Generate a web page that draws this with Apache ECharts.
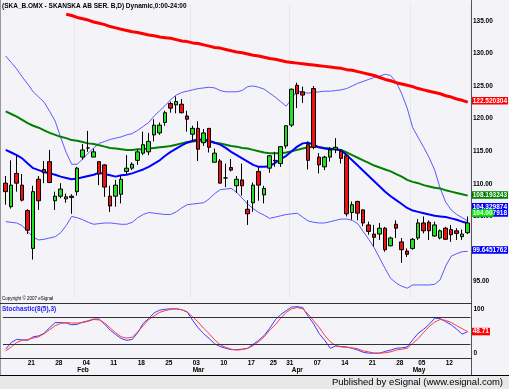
<!DOCTYPE html>
<html><head><meta charset="utf-8">
<script src="https://cdn.jsdelivr.net/npm/echarts@6/dist/echarts.min.js"></script>
<style>html,body{margin:0;padding:0;background:#f4f3f8}#c{width:509px;height:389px}</style>
</head><body><div id="c"></div>
<script>
const dates = [
'2008-01-15','2008-01-16','2008-01-17','2008-01-18',
'2008-01-21','2008-01-22','2008-01-23','2008-01-24','2008-01-25',
'2008-01-28','2008-01-29','2008-01-30','2008-01-31','2008-02-01',
'2008-02-04','2008-02-05','2008-02-06','2008-02-07','2008-02-08',
'2008-02-11','2008-02-12','2008-02-13','2008-02-14','2008-02-15',
'2008-02-18','2008-02-19','2008-02-20','2008-02-21','2008-02-22',
'2008-02-25','2008-02-26','2008-02-27','2008-02-28','2008-02-29',
'2008-03-03','2008-03-04','2008-03-05','2008-03-06','2008-03-07',
'2008-03-10','2008-03-11','2008-03-12','2008-03-13','2008-03-14',
'2008-03-17','2008-03-18','2008-03-19','2008-03-20',
'2008-03-25','2008-03-26','2008-03-27',
'2008-03-31','2008-04-01','2008-04-02','2008-04-03','2008-04-04',
'2008-04-07','2008-04-08','2008-04-09','2008-04-10','2008-04-11',
'2008-04-14','2008-04-15','2008-04-16','2008-04-17','2008-04-18',
'2008-04-21','2008-04-22','2008-04-23','2008-04-24','2008-04-25',
'2008-04-28','2008-04-29','2008-04-30','2008-05-02',
'2008-05-05','2008-05-06','2008-05-07','2008-05-08','2008-05-09',
'2008-05-12','2008-05-13','2008-05-14','2008-05-15','2008-05-16'];

// [open, close, low, high]
const ohlc = [
[110.1,108.8,106.8,111.2],[106.5,109.8,106.2,113.6],[111.6,110.1,108.8,114.3],[109.8,107.5,107.3,111.5],
[105.9,102.9,102.3,106.1],[100.1,108.8,98.4,109.7],[110.7,107.4,106.0,111.2],[112.2,111.7,110.1,113.5],[113.4,110.2,110.1,115.2],
[107.4,108.1,106.0,108.8],[108.1,109.2,107.8,110.1],[107.7,108.0,107.1,108.5],[108.1,107.9,105.4,108.4],[108.8,112.4,108.2,112.6],
[114.1,115.2,113.7,116.1],[115.5,115.5,114.9,118.1],[114.1,114.9,114.1,115.4],[113.4,111.5,109.8,113.4],[112.9,109.5,108.0,113.0],
[108.1,106.6,105.7,109.7],[108.1,109.8,106.5,110.6],[108.4,110.7,107.0,111.2],[111.9,112.4,111.5,114.4],[112.4,113.0,112.1,113.3],
[113.6,114.9,112.9,115.3],[114.7,116.0,114.4,118.0],[114.9,116.5,114.4,117.8],[117.5,119.0,116.5,119.9],[117.8,119.0,117.5,119.4],
[119.4,120.9,118.9,121.2],[122.3,121.6,120.9,122.6],[122.1,122.6,120.8,123.4],[122.2,120.9,120.8,123.0],[120.4,119.9,118.0,121.2],
[117.6,118.5,116.5,118.9],[118.5,115.3,113.5,119.6],[116.3,117.8,115.8,118.4],[118.5,115.6,114.8,118.5],[113.3,114.7,113.3,115.4],
[113.5,110.1,110.1,113.8],[110.9,110.9,109.5,113.1],[112.5,112.1,111.9,113.8],[109.7,110.7,108.6,111.2],[110.6,109.7,108.2,113.1],
[106.1,105.4,103.7,107.5],[107.1,109.8,105.7,110.2],[111.9,109.8,107.4,112.6],[108.3,109.3,107.0,109.7],
[112.4,114.3,111.7,114.4],[113.6,113.5,112.6,114.9],[113.1,115.7,112.6,115.8],
[115.8,118.9,115.4,119.0],[119.0,124.5,118.7,124.6],[125.1,123.8,121.6,125.5],[124.1,123.6,122.4,124.9],[116.0,113.6,112.2,116.5],
[124.6,115.6,115.3,125.0],[114.1,112.9,111.6,114.7],[112.6,114.1,112.1,114.3],[114.1,115.2,113.4,115.6],[115.3,115.6,114.7,117.0],
[115.0,113.9,113.1,115.2],[114.3,105.4,105.0,114.4],[105.6,106.8,104.5,107.3],[107.3,105.5,104.4,107.4],[106.0,104.0,103.5,106.1],
[103.7,102.7,102.2,104.2],[102.3,101.8,100.4,103.7],[102.3,103.2,101.4,104.0],[103.2,99.9,99.6,103.4],[100.5,101.7,100.4,101.9],
[103.8,103.2,101.7,104.4],[101.1,99.9,97.9,101.7],[99.7,99.2,98.8,100.1],[100.1,101.5,99.9,101.7],
[101.7,104.0,101.4,104.6],[104.0,102.8,102.4,105.0],[104.1,102.8,101.4,104.4],[102.0,103.7,101.9,104.2],[101.7,102.8,101.5,103.0],
[103.2,101.5,101.4,103.4],[103.0,102.2,101.1,103.7],[102.8,102.4,101.4,103.2],[101.9,102.3,101.4,103.0],[102.5,104.0,102.3,105.0]];

const maRed = [null,null,null,null,null,null,null,null,null,null,null,
136.0,135.8,135.5,135.3,135.1,134.8,134.6,134.4,134.1,133.9,133.7,133.5,133.3,133.2,133.0,132.8,132.7,132.5,132.4,
132.3,132.1,131.9,131.8,131.6,131.5,131.3,131.1,130.9,130.8,130.6,130.4,130.2,130.1,129.9,129.7,129.6,129.4,129.2,
129.1,128.9,128.7,128.6,128.5,128.4,128.3,128.2,128.1,128.0,127.9,127.8,127.7,127.5,127.4,127.2,127.0,126.8,126.6,
126.3,126.0,125.8,125.5,125.3,125.1,124.9,124.6,124.4,124.2,124.0,123.8,123.5,123.3,123.0,122.8,122.520304];

const maGreen = [121.1,120.7,120.3,119.8,119.3,118.9,118.6,118.2,117.8,117.5,117.2,117.0,116.7,116.6,116.4,116.2,116.1,
115.9,115.7,115.5,115.4,115.3,115.2,115.2,115.3,115.3,115.4,115.5,115.6,115.7,115.8,116.0,116.2,116.4,116.5,116.6,
116.6,116.5,116.3,116.2,116.0,115.8,115.7,115.5,115.4,115.2,115.0,114.8,114.7,114.7,114.7,114.8,115.0,115.2,115.4,
115.6,115.7,115.6,115.5,115.4,115.3,115.2,114.8,114.4,114.0,113.6,113.2,112.8,112.5,112.2,111.9,111.5,111.1,110.6,
110.3,110.1,109.8,109.6,109.4,109.3,109.0,108.8,108.6,108.4,108.193243];

const bbMid = [115.2,114.8,114.4,113.9,113.1,112.4,112.1,111.8,111.6,111.4,111.1,110.9,110.7,110.8,111.0,111.2,111.4,
111.7,111.5,111.3,111.1,111.3,111.4,111.6,111.9,112.2,112.6,113.1,113.6,114.3,114.9,115.4,115.9,116.3,116.6,116.8,
116.8,116.6,116.3,116.0,115.5,114.9,114.4,113.9,113.4,112.9,112.6,112.6,112.7,113.2,113.8,114.3,115.0,115.7,116.2,
116.3,116.0,115.6,115.4,115.3,115.3,115.1,114.4,113.6,112.8,112.0,111.2,110.4,109.6,108.8,108.1,107.5,106.9,106.3,
105.9,105.7,105.5,105.3,105.1,105.0,104.9,104.7,104.5,104.2,104.007918];

const bbUpper = [129.6,128.6,127.6,126.4,125.3,124.1,123.3,122.5,121.1,119.6,117.1,114.8,113.0,113.0,113.8,114.7,115.5,
116.2,116.5,116.8,117.0,117.2,117.5,117.7,118.2,118.8,119.4,120.4,121.2,122.0,122.9,123.6,124.0,124.2,124.4,124.6,
124.7,124.8,124.7,124.3,124.1,124.1,124.1,124.3,124.9,125.0,124.8,124.5,123.9,123.3,122.6,121.9,123.0,124.3,124.0,
123.9,124.0,124.1,124.2,124.2,124.3,124.4,124.6,125.0,125.4,125.7,126.0,126.3,126.5,126.8,126.6,125.6,123.8,121.6,
118.6,117.1,115.6,114.0,112.1,109.3,107.2,106.0,105.3,104.8,104.329874];

const bbLower = [104.2,104.1,104.0,103.6,102.7,101.8,101.4,101.5,101.7,101.9,102.5,103.6,105.0,104.8,104.5,104.1,103.8,
103.9,104.0,104.0,103.9,103.8,103.8,104.1,104.8,105.3,105.6,105.5,105.4,105.3,105.3,105.7,106.3,106.8,106.9,107.0,
107.1,107.7,108.5,109.1,109.2,109.3,108.7,107.8,106.9,106.2,105.6,105.2,104.7,104.9,105.1,105.3,105.4,105.5,104.9,
104.3,104.1,104.0,104.0,104.2,104.4,104.6,104.6,104.4,103.9,102.7,101.5,100.2,98.6,97.0,95.5,94.8,94.3,94.0,
94.5,94.5,94.5,94.5,94.6,95.3,97.4,98.9,99.3,99.6,99.6451762];

const stochK = [9,24,31,30,29,37,39,45,58,69,69,68,64,65,70,73,77,77,65,52,42,33,29,31,46,67,78,91,97,99,
100,100,98,93,74,57,44,33,21,15,11,8,8,9,11,20,29,40,56,75,87,96,104,105,103,83,66,44,29,11,
16,15,14,11,7,2,0,0,0,4,7,11,12,14,30,45,54,65,79,78,71,64,54,43,48.5];

const stochD = [5,14,24,29,31,34,37,44,53,62,67,69,68,68,69,72,76,75,68,57,46,37,34,36,48,62,76,84,92,96,
99,100,98,93,82,70,56,44,30,19,13,9,7,8,11,17,26,37,52,64,79,92,100,103,100,88,73,58,40,26,
17,14,13,12,10,5,3,0,0,1,3,7,9,11,22,33,47,60,70,76,74,69,62,55,48.71];

const stochLevels = [80, 20];
const priceTicks = [95,100,105,110,115,120,125,130,135];
const monthNames = ['Jan','Feb','Mar','Apr','May','Jun','Jul','Aug','Sep','Oct','Nov','Dec'];

function dUTC(s){return new Date(Date.UTC(+s.slice(0,4), +s.slice(5,7)-1, +s.slice(8,10)));}
const weekStart = dates.map((d,i)=>{ if(i===0) return false; const a=dUTC(dates[i-1]), b=dUTC(d);
  return b.getUTCDay() <= a.getUTCDay() || (b-a) >= 7*864e5; });
const monthStart = dates.map((d,i)=> i>0 && d.slice(5,7)!==dates[i-1].slice(5,7));
const closes = ohlc.map(d=>d[1]);

const chart = echarts.init(document.getElementById('c'), null, {renderer:'canvas'});
const FF = 'Liberation Sans, Arial, sans-serif';
const lblFont = {fontFamily:FF, fontSize:6.5, fontWeight:'bold', color:'#000'};
function tag(bg, dy, digits){
  return {show:true, formatter:(p)=>{const v=Array.isArray(p.value)?p.value[1]:p.value; return (+v).toFixed(digits);},
    backgroundColor:bg, color:'#fff', fontFamily:FF, fontSize:6.5, fontWeight:'bold',
    padding:[0.5,1,0,1], lineHeight:7, distance:4, offset:[0,dy], align:'left'};
}
const option = {
  animation:false,
  backgroundColor:'#f4f3f8',
  grid:[
    {left:2.95, right:38.55, top:4.4, bottom:91},
    {left:2.95, right:38.55, top:303.3, bottom:31.4}
  ],
  xAxis:[
    {type:'category', gridIndex:0, data:dates, axisLine:{show:false}, axisTick:{show:false}, axisLabel:{show:false},
     splitLine:{show:true, interval:(i)=>monthStart[i], lineStyle:{color:'#dcdce6', type:'dotted', width:1}}},
    {type:'category', gridIndex:1, data:dates, axisLine:{show:false}, axisTick:{show:false},
     axisLabel:Object.assign({interval:(i)=>weekStart[i], formatter:(v)=>v.slice(8), align:'left', margin:2}, lblFont),
     splitLine:{show:false}},
    {type:'category', gridIndex:1, data:dates, position:'bottom', offset:7, axisLine:{show:false}, axisTick:{show:false},
     axisLabel:Object.assign({interval:(i)=>monthStart[i], formatter:(v)=>monthNames[+v.slice(5,7)-1], align:'left', margin:2}, lblFont),
     splitLine:{show:false}}
  ],
  yAxis:[
    {type:'value', gridIndex:0, position:'right', min:92.5, max:137.5, interval:2.5, axisLine:{show:false}, axisTick:{show:false},
     splitLine:{show:false}, axisLabel:Object.assign({margin:2.5, formatter:(v)=> priceTicks.indexOf(v)>=0 ? v.toFixed(2) : ''}, lblFont)},
    {type:'value', gridIndex:1, position:'right', min:-10, max:112.5, interval:10, axisLine:{show:false}, axisTick:{show:false},
     splitLine:{show:false}, axisLabel:Object.assign({margin:3, formatter:(v)=> (v===0||v===100) ? String(v) : ''}, lblFont)}
  ],
  series:[
    {name:'Upper', type:'line', xAxisIndex:0, yAxisIndex:0, data:bbUpper, showSymbol:false, symbol:'none',
     lineStyle:{color:'#5a5aff', width:1}, z:2, endLabel:tag('#0000ff',-14,6)},
    {name:'Lower', type:'line', xAxisIndex:0, yAxisIndex:0, data:bbLower, showSymbol:false, symbol:'none',
     lineStyle:{color:'#5a5aff', width:1}, z:2, endLabel:tag('#0000ff',-1.5,7)},
    {name:'Red MA', type:'line', xAxisIndex:0, yAxisIndex:0, data:maRed, showSymbol:false, symbol:'none',
     lineStyle:{color:'#ff0000', width:3}, z:3, endLabel:tag('#ff0000',-1.3,6)},
    {name:'Green MA', type:'line', xAxisIndex:0, yAxisIndex:0, data:maGreen, showSymbol:false, symbol:'none',
     lineStyle:{color:'#008000', width:2}, z:3, endLabel:tag('#008000',-0.5,6)},
    {name:'Mid', type:'line', xAxisIndex:0, yAxisIndex:0, data:bbMid, showSymbol:false, symbol:'none',
     lineStyle:{color:'#0000ff', width:2}, z:4, endLabel:tag('#0000ff',-10,6)},
    {name:'Price', type:'candlestick', xAxisIndex:0, yAxisIndex:0, data:ohlc, barWidth:4, z:5,
     itemStyle:{color:'#22e022', color0:'#ee1111', borderColor:'#000', borderColor0:'#000', borderColorDoji:'#000', borderWidth:1}},
    {name:'Close', type:'line', xAxisIndex:0, yAxisIndex:0, data:closes, showSymbol:false, symbol:'none', silent:true,
     lineStyle:{opacity:0, width:0}, z:10, endLabel:tag('#00ee00',-10,2)},
    {name:'%K', type:'line', xAxisIndex:1, yAxisIndex:1, data:stochK, showSymbol:false, symbol:'none',
     lineStyle:{color:'#3b3bff', width:1}, z:3,
     markLine:{silent:true, symbol:'none', label:{show:false}, lineStyle:{color:'#333', width:1, type:'solid'},
       data:stochLevels.map(v=>({yAxis:v}))}},
    {name:'%D', type:'line', xAxisIndex:1, yAxisIndex:1, data:stochD, showSymbol:false, symbol:'none',
     lineStyle:{color:'#ff3b3b', width:1}, z:4, endLabel:tag('#ff0000',0,2)}
  ],
  graphic:[
    {type:'line', shape:{x1:0.5,y1:0,x2:0.5,y2:375}, style:{stroke:'#9a9a9a', lineWidth:1}, z:50},
    {type:'line', shape:{x1:471.5,y1:0,x2:471.5,y2:375}, style:{stroke:'#555', lineWidth:1}, z:50},
    {type:'line', shape:{x1:0,y1:303.5,x2:472,y2:303.5}, style:{stroke:'#333', lineWidth:1}, z:50},
    {type:'line', shape:{x1:0,y1:358.5,x2:472,y2:358.5}, style:{stroke:'#333', lineWidth:1}, z:50},
    {type:'rect', shape:{x:0,y:375,width:509,height:14}, style:{fill:'#e8e8e8'}, z:40},
    {type:'line', shape:{x1:0,y1:375.5,x2:509,y2:375.5}, style:{stroke:'#000', lineWidth:1}, z:50},
    {type:'text', x:2, y:6.5, z:60, style:{text:'(SKA_B.OMX - SKANSKA AB SER. B,D) Dynamic,0:00-24:00', fill:'#000',
      font:'bold 6.5px "Liberation Sans", Arial, sans-serif', textVerticalAlign:'middle', verticalAlign:'middle'}},
    {type:'text', x:2, y:309.5, z:60, style:{text:'Stochastic(8(5),3)', fill:'#2222ff',
      font:'bold 6.5px "Liberation Sans", Arial, sans-serif', textVerticalAlign:'middle', verticalAlign:'middle'}},
    {type:'text', x:2, y:299, z:60, style:{text:'Copyright \u00a9 2007 eSignal', fill:'#000',
      font:'4.5px "Liberation Sans", Arial, sans-serif', textVerticalAlign:'middle', verticalAlign:'middle'}},
    {type:'text', x:503, y:382.5, z:60, style:{text:'Published by eSignal (www.esignal.com)', fill:'#000',
      font:'9.5px "Liberation Sans", Arial, sans-serif', textAlign:'right', align:'right', textVerticalAlign:'middle', verticalAlign:'middle'}}
  ]
};
chart.setOption(option);
</script></body></html>
